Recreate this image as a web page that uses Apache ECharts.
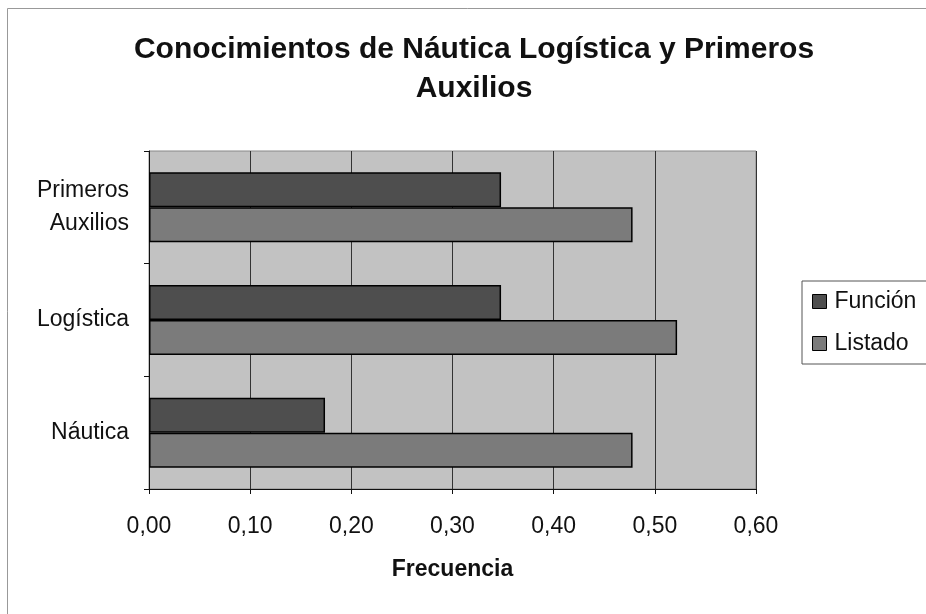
<!DOCTYPE html>
<html>
<head>
<meta charset="utf-8">
<script src="https://cdn.jsdelivr.net/npm/echarts@6/dist/echarts.min.js"></script>
<style>
html,body{margin:0;padding:0;background:#fff;}
#chart{width:926px;height:614px;}
</style>
</head>
<body>
<div id="chart"></div>
<script>
var categories = ['Náutica', 'Logística', 'Primeros\nAuxilios'];
var funcion = [0.174, 0.348, 0.348];
var listado = [0.478, 0.522, 0.478];
var xTicks = [0, 0.1, 0.2, 0.3, 0.4, 0.5, 0.6];

var chart = echarts.init(document.getElementById('chart'), null, {renderer: 'canvas'});
var font = '"Liberation Sans", Arial, sans-serif';
chart.setOption({
  animation: false,
  backgroundColor: '#fff',
  title: {
    text: 'Conocimientos de Náutica Logística y Primeros\nAuxilios',
    left: 474, top: 30, textAlign: 'center', padding: 0,
    textStyle: {fontFamily: font, fontSize: 30, fontWeight: 'bold', color: '#111', lineHeight: 39}
  },
  graphic: [{
    type: 'rect', shape: {x: 7.5, y: 8.5, width: 940, height: 640},
    style: {fill: 'none', stroke: '#999', lineWidth: 1}, silent: true
  }],
  legend: {
    data: ['Función', 'Listado'],
    orient: 'vertical', left: 802, top: 281,
    padding: [9, 40, 9, 10], itemGap: 19,
    itemWidth: 14, itemHeight: 14, icon: 'rect',
    backgroundColor: '#fff', borderColor: '#555', borderWidth: 1,
    itemStyle: {borderColor: '#000', borderWidth: 1},
    textStyle: {fontFamily: font, fontSize: 23, color: '#111', padding: [0, 0, 0, 3]}
  },
  grid: {
    left: 149, right: 170, top: 151, bottom: 125,
    show: true, backgroundColor: '#c2c2c2', borderColor: '#888', borderWidth: 1
  },
  xAxis: {
    type: 'value', min: 0, max: 0.6, interval: 0.1,
    name: 'Frecuencia', nameLocation: 'middle', nameGap: 69,
    nameTextStyle: {fontFamily: font, fontSize: 23, fontWeight: 'bold', color: '#111'},
    axisLine: {show: true, lineStyle: {color: '#111', width: 1}},
    axisTick: {show: true, length: 5, lineStyle: {color: '#111'}},
    axisLabel: {
      margin: 26, fontFamily: font, fontSize: 23, color: '#111',
      formatter: function (v) { return v.toFixed(2).replace('.', ','); }
    },
    splitLine: {show: true, lineStyle: {color: '#333', width: 1}}
  },
  yAxis: {
    type: 'category', data: categories,
    axisLine: {show: true, lineStyle: {color: '#111', width: 1}},
    axisTick: {show: true, length: 5, lineStyle: {color: '#111'}},
    axisLabel: {margin: 20, fontFamily: font, fontSize: 23, color: '#111', lineHeight: 33}
  },
  series: [
    {
      name: 'Función', type: 'bar', data: funcion,
      barWidth: 35, barGap: '0%',
      itemStyle: {color: '#4e4e4e', borderColor: '#000', borderWidth: 1.5}
    },
    {
      name: 'Listado', type: 'bar', data: listado,
      barWidth: 35, barGap: '0%',
      itemStyle: {color: '#7b7b7b', borderColor: '#000', borderWidth: 1.5}
    }
  ]
});
</script>
</body>
</html>
